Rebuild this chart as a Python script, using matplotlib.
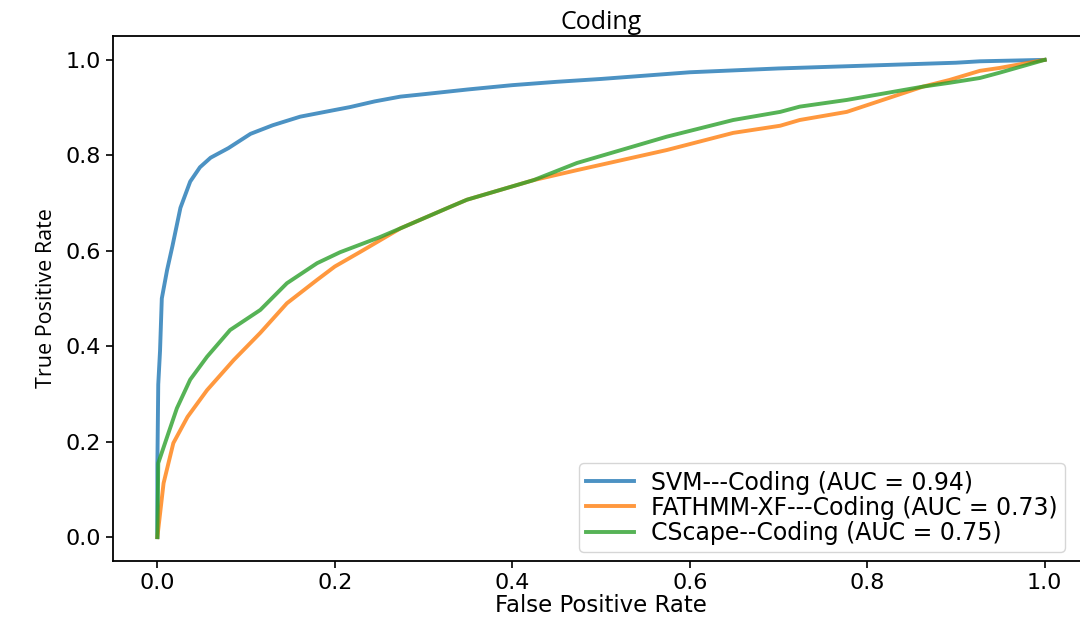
import matplotlib
matplotlib.use("Agg")
import matplotlib.pyplot as plt

# ROC curve points
svm_fpr = [0.0, 0.0, 0.001, 0.003, 0.005, 0.008, 0.011, 0.017, 0.026, 0.037, 0.048, 0.06, 0.08,
           0.105, 0.13, 0.161, 0.2, 0.217, 0.245, 0.274, 0.3, 0.35, 0.4, 0.45, 0.5, 0.55, 0.6,
           0.7, 0.8, 0.9, 0.927, 1.0]
svm_tpr = [0.0, 0.15, 0.32, 0.39, 0.50, 0.53, 0.56, 0.61, 0.69, 0.745, 0.775, 0.795, 0.815,
           0.845, 0.863, 0.881, 0.895, 0.901, 0.913, 0.923, 0.928, 0.938, 0.947, 0.954, 0.960,
           0.967, 0.974, 0.982, 0.988, 0.994, 0.997, 1.0]

fathmm_fpr = [0.0, 0.007, 0.018, 0.034, 0.056, 0.086, 0.116, 0.146, 0.18, 0.2, 0.229,
              0.274, 0.33, 0.349, 0.424, 0.473, 0.574, 0.649, 0.702, 0.724, 0.777, 0.863,
              0.893, 0.927, 0.949, 1.0]
fathmm_tpr = [0.0, 0.113, 0.197, 0.252, 0.308, 0.371, 0.428, 0.49, 0.539, 0.567, 0.598,
              0.647, 0.692, 0.707, 0.748, 0.769, 0.811, 0.847, 0.862, 0.874, 0.891, 0.944,
              0.958, 0.977, 0.983, 1.0]

cscape_fpr = [0.0, 0.001, 0.011, 0.022, 0.037, 0.056, 0.082, 0.116, 0.146, 0.18, 0.206,
              0.25, 0.274, 0.33, 0.349, 0.424, 0.473, 0.574, 0.649, 0.702, 0.724, 0.777, 0.863,
              0.893, 0.927, 0.949, 1.0]
cscape_tpr = [0.0, 0.155, 0.21, 0.27, 0.33, 0.378, 0.434, 0.476, 0.532, 0.574, 0.597,
              0.628, 0.647, 0.692, 0.707, 0.748, 0.784, 0.839, 0.874, 0.891, 0.902, 0.916, 0.944,
              0.952, 0.962, 0.973, 1.0]

labels = ["SVM---Coding (AUC = 0.94)",
          "FATHMM-XF---Coding (AUC = 0.73)",
          "CScape--Coding (AUC = 0.75)"]
colors = ["#1f77b4", "#ff7f0e", "#2ca02c"]

W, H = 1080, 625
fig = plt.figure(figsize=(W / 100, H / 100), dpi=100)
ax = fig.add_axes([113 / W, (H - 561) / H, (1089 - 113) / W, (561 - 36) / H])

for fx, ty, lab, c in zip([svm_fpr, fathmm_fpr, cscape_fpr],
                          [svm_tpr, fathmm_tpr, cscape_tpr], labels, colors):
    ax.plot(fx, ty, color=c, lw=2.8, alpha=0.8, label=lab)

ax.set_xlim(-0.05, 1.05)
ax.set_ylim(-0.05, 1.05)
ax.set_xticks([0.0, 0.2, 0.4, 0.6, 0.8, 1.0])
ax.set_yticks([0.0, 0.2, 0.4, 0.6, 0.8, 1.0])
ax.tick_params(labelsize=16, length=5, width=1.2)
for s in ax.spines.values():
    s.set_linewidth(1.3)

ax.set_xlabel("False Positive Rate", fontsize=16.5, labelpad=1)
ax.set_ylabel("True Positive Rate", fontsize=15.5, family="Open Sans", labelpad=6)
ax.set_title("Coding", fontsize=18, family="Open Sans", pad=5)

leg = ax.legend(loc="lower right", bbox_to_anchor=(1065 / W, (H - 552) / H),
                bbox_transform=fig.transFigure, borderaxespad=0, fontsize=17,
                handlelength=2.0, handletextpad=0.75, labelspacing=0.05,
                borderpad=0.3, frameon=True)

fig.savefig("out.png", dpi=100)
